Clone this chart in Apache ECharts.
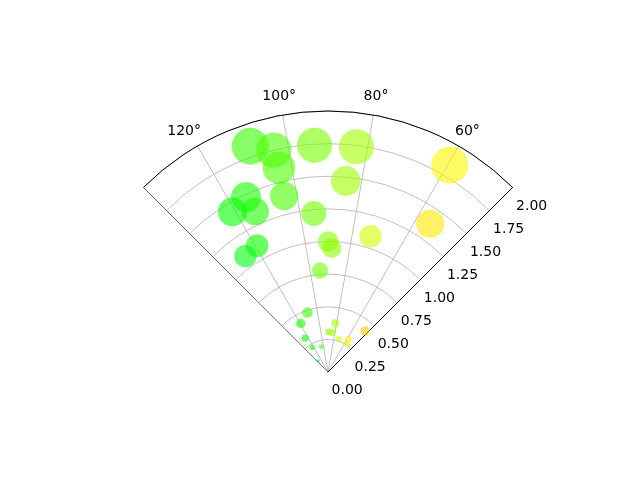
<!DOCTYPE html>
<html>
<head>
<meta charset="utf-8">
<script src="https://cdn.jsdelivr.net/npm/echarts@6/dist/echarts.min.js"></script>
<style>html,body{margin:0;padding:0;background:#fff}#c{width:640px;height:480px}</style>
</head>
<body>
<div id="c"></div>
<script>
// radius values
const radii = [1.83, 1.75, 1.61, 1.74, 1.74, 1.84, 1.47, 1.39, 1.48, 1.35, 1.43, 1.22, 1.38, 1.09, 1.00, 0.95, 1.11, 1.09, 0.78,
  0.482, 0.426, 0.313, 0.224, 0.200, 0.114, 0.378, 0.308, 0.305, 0.265, 0.296, 0.260, 0.425];
// angle values (degrees)
const thetas = [109.0, 103.7, 103.5, 93.4, 82.8, 59.5, 84.7, 104.0, 115.1, 114.4, 120.8, 95.1, 55.4, 72.6, 89.9, 88.3, 119.3, 125.5, 94.5,
  109.1, 119.3, 124.1, 123.0, 104.8, 130.6, 81.5, 89.0, 83.8, 72.0, 58.4, 55.4, 47.9];
const angleTicks = [60, 80, 100, 120];
const thetaMin = 45, thetaMax = 135, rMax = 2, rStep = 0.25;

// matplotlib 'hsv' colormap segment data
const hsvRed = [[0, 1], [0.158730, 1], [0.174603, 0.96875], [0.333333, 0.03125], [0.349206, 0], [0.666667, 0], [0.682540, 0.03125], [0.841270, 0.96875], [0.857143, 1], [1, 1]];
const hsvGreen = [[0, 0], [0.158730, 0.9375], [0.174603, 1], [0.507937, 1], [0.666667, 0.0625], [0.682540, 0], [1, 0]];
const hsvBlue = [[0, 0], [0.333333, 0], [0.349206, 0.0625], [0.507937, 1], [0.841270, 1], [0.857143, 0.9375], [1, 0.09375]];
function seg(tab, x) {
  for (let i = 1; i < tab.length; i++) {
    if (x <= tab[i][0]) {
      const [x0, y0] = tab[i - 1], [x1, y1] = tab[i];
      return y0 + (y1 - y0) * (x - x0) / (x1 - x0);
    }
  }
  return tab[tab.length - 1][1];
}
function cmap(deg) {
  const x = deg / 360;
  const c = [seg(hsvRed, x), seg(hsvGreen, x), seg(hsvBlue, x)].map(v => Math.round(v * 255));
  return 'rgba(' + c[0] + ',' + c[1] + ',' + c[2] + ',0.75)';
}

const points = radii.map((r, i) => [r, thetas[i]]);
const font = 'DejaVu Sans';
const lbl = {fontFamily: font, fontSize: 14, color: '#000'};
const chart = echarts.init(document.getElementById('c'), null, {renderer: 'canvas'});
chart.setOption({
  backgroundColor: '#ffffff',
  animation: false,
  polar: {center: [328, 372], radius: 261},
  angleAxis: {
    type: 'value', min: thetaMin, max: thetaMax,
    startAngle: thetaMin, endAngle: thetaMax, clockwise: false,
    axisLine: {show: true, lineStyle: {color: '#000', width: 1}},
    axisTick: {show: false, customValues: angleTicks},
    axisLabel: {customValues: angleTicks, margin: -7, color: '#000', fontFamily: font, fontSize: 14,
      formatter: v => '{a' + v + '|' + v + '°}',
      rich: {
        a60: Object.assign({padding: [0, 0, 13.4, 0]}, lbl),
        a80: Object.assign({padding: [0, 0, 18.2, 7.8]}, lbl),
        a100: Object.assign({padding: [0, 9.4, 18.2, 0]}, lbl),
        a120: Object.assign({padding: [0, 0, 13.4, 0]}, lbl)
      }},
    splitLine: {show: true, lineStyle: {color: '#b0b0b0', width: 0.8}}
  },
  radiusAxis: {
    type: 'value', min: 0, max: rMax, interval: rStep,
    axisLine: {show: true, lineStyle: {color: '#000', width: 1}},
    axisTick: {show: false},
    axisLabel: {margin: -5, align: 'left', verticalAlign: 'top',
      color: '#000', fontFamily: font, fontSize: 14,
      formatter: v => '{r|' + v.toFixed(2) + '}',
      rich: {r: Object.assign({padding: [8, 0, 0, 0]}, lbl)}},
    splitLine: {show: true, lineStyle: {color: '#b0b0b0', width: 0.8}}
  },
  series: [
    {
      type: 'scatter', coordinateSystem: 'polar',
      data: points,
      symbolSize: d => 19.64 * d[0] + 1,
      itemStyle: {
        color: p => cmap(p.data[1])
      }
    },
    {
      type: 'line', coordinateSystem: 'polar', silent: true, symbol: 'none',
      data: [[0, thetaMax], [rMax, thetaMax]],
      lineStyle: {color: '#000', width: 1}, z: 5
    }
  ]
});
</script>
</body>
</html>
